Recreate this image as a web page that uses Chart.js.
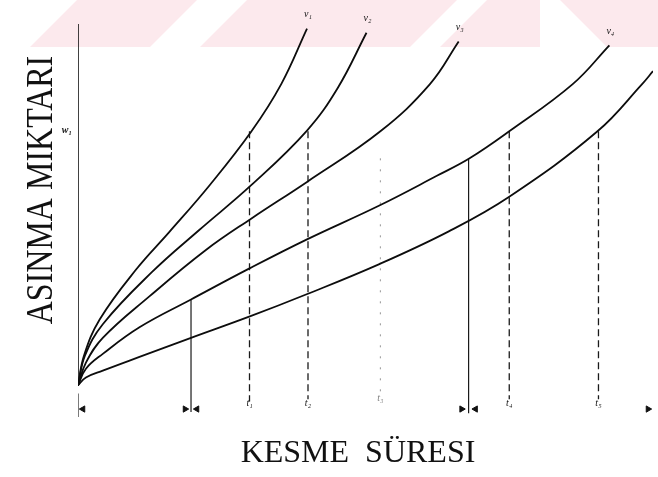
<!DOCTYPE html>
<html>
<head>
<meta charset="utf-8">
<script src="https://cdn.jsdelivr.net/npm/chart.js@4/dist/chart.umd.min.js"></script>
<style>
  html, body { margin: 0; padding: 0; background: #fff; }
  canvas { display: block; }
</style>
</head>
<body>
<canvas id="wear" width="658" height="477"></canvas>
<script>
// Wear (ASINMA) against cutting time (KESME SÜRESI) for five cutting speeds.
// x: cutting time, y: wear amount (arbitrary units).
const curveNames = ['v₁', 'v₂', 'v₃', 'v₄', 'v₅'];

const curveV1 = [[0,0],[1.2,7.8],[4.4,17.4],[11.8,30.6],[18.4,40.3],[26.6,52.7],[35,66.8],[41,79.2],[46.2,93.8]];
const curveV2 = [[0,0],[1.4,7.8],[5,16.1],[15,29.9],[24.4,40.8],[35,52.7],[46.2,67.0],[52.4,78.2],[58.2,92.7]];
const curveV3 = [[0,0],[1.6,6.0],[5,12.5],[14.4,23.4],[25.8,35.6],[35,43.9],[46.2,53.5],[61,66.8],[71,79.2],[76.8,90.4]];
const curveV4 = [[0,0],[1.6,4.4],[5,8.3],[12.4,15.3],[22.8,22.6],[34.8,30.9],[46.2,38.4],[60.8,47.3],[72.4,55.1],[79,59.7],[87,66.8],[99.8,79.2],[107.2,89.4]];
const curveV5 = [[0,0],[1.6,2.1],[5,3.9],[12.4,7.5],[22.8,12.5],[34.8,18.2],[46,23.9],[60.8,31.9],[74.8,40.5],[87,49.6],[104.8,66.8],[113.8,79.2],[116,82.6]];

// Wear limit and the tool-life times read on each curve.
const wearLimit = 66.8;
const lifeTimes = [34.6, 46.4, 61, 87, 105];
const lifeLabels = ['t₁', 't₂', 't₃', 't₄', 't₅'];
const lifeBottoms = [-4.2, -3.6, -2.6, -3.6, -3.6];

// Solid reference verticals (from curve v4 down past the time axis).
const refTimes = [22.8, 78.8];
const refTops = [22.6, 59.6];
const refBottoms = [-7.0, -7.3];

// Time-axis start tick and dimension arrowheads.
const axisTop = 95;
const originTick = [-2.1, -8.3];
const arrowX = [1.0, 21.6, 24.0, 77.4, 80.2, 115];
const arrowDir = [-90, 90, -90, 90, -90, 90];
const arrowY = -6.2;

const toPts = arr => arr.map(p => ({ x: p[0], y: p[1] }));

const datasets = [];
[curveV1, curveV2, curveV3, curveV4, curveV5].forEach((c, i) => {
  datasets.push({
    label: curveNames[i], data: toPts(c), borderColor: '#0d0d0d', borderWidth: 1.8,
    pointRadius: 0, tension: 0.4, fill: false
  });
});
// y axis line
datasets.push({ label: 'axis', data: [{x:0,y:0},{x:0,y:axisTop}], borderColor: '#111', borderWidth: 1.6, pointRadius: 0 });
// origin tick on the time axis
datasets.push({ label: 'tick0', data: [{x:0,y:originTick[0]},{x:0,y:originTick[1]}], borderColor: '#222', borderWidth: 1.2, pointRadius: 0 });
// tool-life verticals
lifeTimes.forEach((t, i) => {
  const faint = i === 2;
  datasets.push({
    label: lifeLabels[i], data: [{x:t,y:faint ? 59.7 : wearLimit},{x:t,y:lifeBottoms[i]}],
    borderColor: faint ? 'rgba(60,60,60,0.55)' : '#1a1a1a', borderWidth: faint ? 1 : 1.3,
    borderDash: faint ? [2, 9] : [7, 4], pointRadius: 0
  });
});
// solid reference verticals
refTimes.forEach((t, i) => {
  datasets.push({
    label: 'ref' + i, data: [{x:t,y:refTops[i]},{x:t,y:refBottoms[i]}],
    borderColor: '#1a1a1a', borderWidth: 1.2, pointRadius: 0
  });
});
// arrowheads
datasets.push({
  label: 'arrows', type: 'scatter', showLine: false,
  data: arrowX.map(x => ({ x, y: arrowY })),
  pointStyle: 'triangle', pointRadius: 3.6, pointRotation: arrowDir,
  backgroundColor: '#111', borderColor: '#111', borderWidth: 1
});

const decor = {
  id: 'decor',
  beforeDraw(chart) {
    const ctx = chart.ctx;
    ctx.save();
    ctx.fillStyle = '#fff';
    ctx.fillRect(0, 0, chart.width, chart.height);
    // faint pink band with diagonal gaps across the top
    ctx.fillStyle = 'rgb(252,233,237)';
    ctx.fillRect(0, 0, chart.width, 47);
    ctx.fillStyle = '#fff';
    const gaps = [[-30, 30], [150, 200], [410, 440], [700, 730]];
    gaps.forEach(g => {
      ctx.beginPath();
      ctx.moveTo(g[0] + 47, 0); ctx.lineTo(g[1] + 47, 0);
      ctx.lineTo(g[1], 47); ctx.lineTo(g[0], 47);
      ctx.closePath(); ctx.fill();
    });
    ctx.beginPath();
    ctx.moveTo(0, 0); ctx.lineTo(40, 0); ctx.lineTo(0, 47); ctx.closePath(); ctx.fill();
    ctx.beginPath();
    ctx.moveTo(540, 0); ctx.lineTo(560, 0); ctx.lineTo(607, 47); ctx.lineTo(540, 47); ctx.closePath(); ctx.fill();
    ctx.restore();
  },
  afterDatasetsDraw(chart) {
    const ctx = chart.ctx;
    const xs = chart.scales.x, ys = chart.scales.y;
    ctx.save();
    ctx.fillStyle = '#111';
    // axis titles
    ctx.font = '32px "Liberation Serif", "Times New Roman", serif';
    ctx.textAlign = 'center';
    ctx.textBaseline = 'alphabetic';
    ctx.fillText('KESME  SÜRESI', 358, 462);
    ctx.save();
    ctx.translate(52, 190);
    ctx.rotate(-Math.PI / 2);
    ctx.scale(1, 1.2);
    ctx.fillText('ASINMA MIKTARI', 0, 0);
    ctx.restore();
    // wear limit label
    ctx.font = 'italic bold 10px "Liberation Serif", serif';
    ctx.textAlign = 'right';
    ctx.textBaseline = 'middle';
    ctx.fillText('w₁', xs.getPixelForValue(0) - 6, ys.getPixelForValue(wearLimit) - 1);
    // curve end labels
    ctx.textAlign = 'center';
    ctx.font = 'italic 10px "Liberation Serif", serif';
    [curveV1, curveV2, curveV3, curveV4].forEach((c, i) => {
      const last = c[c.length - 1];
      ctx.fillText(curveNames[i], xs.getPixelForValue(last[0]) + 1, ys.getPixelForValue(last[1]) - 14);
    });
    // tool-life labels under the verticals
    lifeTimes.forEach((t, i) => {
      ctx.fillStyle = i === 2 ? 'rgba(40,40,40,0.6)' : '#111';
      ctx.fillText(lifeLabels[i], xs.getPixelForValue(t), i === 2 ? 398 : 403);
    });
    ctx.restore();
  }
};

new Chart(document.getElementById('wear'), {
  type: 'line',
  data: { datasets },
  options: {
    responsive: false, animation: false, devicePixelRatio: 1,
    layout: { padding: { left: 78, right: 0, top: 0, bottom: 53.5 } },
    plugins: { legend: { display: false }, tooltip: { enabled: false } },
    scales: {
      x: { type: 'linear', min: 0, max: 116, display: false },
      y: { type: 'linear', min: -10, max: 100, display: false }
    }
  },
  plugins: [decor]
});
</script>
</body>
</html>
